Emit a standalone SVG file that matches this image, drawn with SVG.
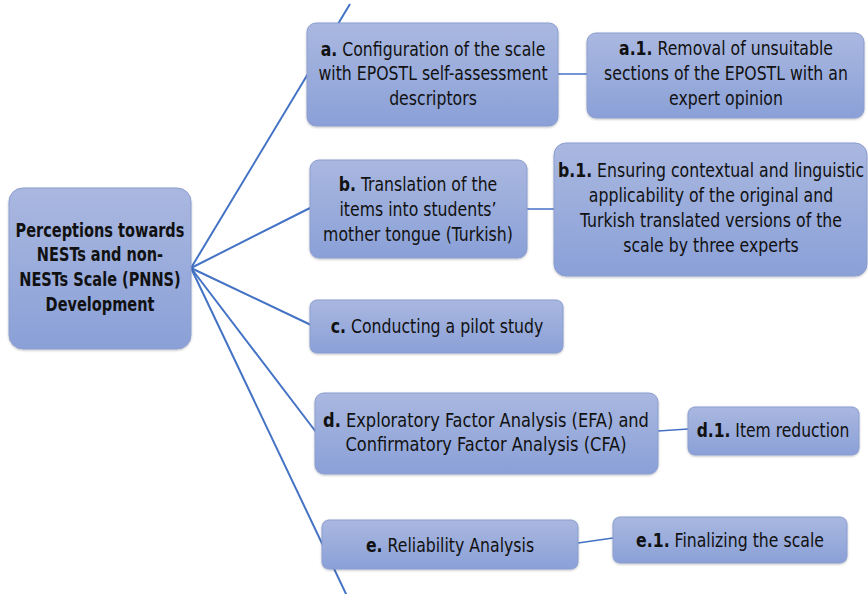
<svg xmlns="http://www.w3.org/2000/svg" width="868" height="594" viewBox="0 0 868 594">
<defs>
<linearGradient id="g" x1="0" y1="0" x2="0" y2="1">
<stop offset="0" stop-color="#aab8e0"/>
<stop offset="1" stop-color="#8aa0d7"/>
</linearGradient>
<filter id="sh" x="-10%" y="-10%" width="120%" height="130%">
<feDropShadow dx="0" dy="1" stdDeviation="1" flood-color="#000" flood-opacity="0.25"/>
</filter>
</defs>
<style>
.box{fill:url(#g);stroke:#8a9dd0;stroke-width:1;filter:url(#sh)}
text{font-family:"DejaVu Sans Condensed","Liberation Sans",sans-serif;font-size:19px;fill:#111;text-anchor:middle}
.b{font-weight:bold}
.root{font-weight:bold;font-size:19px}
.main{stroke:#4472c4;stroke-width:2;fill:none}
.sub{stroke:#4472c4;stroke-width:1.5;fill:none}
</style>
<rect width="868" height="594" fill="#fff"/>
<g id="connectors">
<line class="main" x1="191" y1="268" x2="350" y2="4"/>
<line class="main" x1="191" y1="268" x2="310" y2="208"/>
<line class="main" x1="191" y1="268" x2="311" y2="325"/>
<line class="main" x1="191" y1="268" x2="316" y2="432"/>
<line class="main" x1="191" y1="268" x2="347" y2="596"/>
<line class="sub" x1="558" y1="74" x2="587" y2="74"/>
<line class="sub" x1="527" y1="209" x2="554" y2="209"/>
<line class="sub" x1="658" y1="431" x2="688" y2="429"/>
<line class="sub" x1="578" y1="543" x2="613" y2="538"/>
</g>
<g id="root">
<rect class="box" x="9" y="188" width="182" height="161" rx="14"/>
<g transform="translate(100 0) scale(0.85 1)">
<text class="root" x="0" y="237">Perceptions towards</text>
<text class="root" x="0" y="261">NESTs and non-</text>
<text class="root" x="0" y="286">NESTs Scale (PNNS)</text>
<text class="root" x="0" y="311">Development</text>
</g>
</g>
<g id="node-a">
<rect class="box" x="307" y="23" width="251" height="103" rx="9"/>
<g transform="translate(433 0) scale(0.92 1)">
<text x="0" y="56"><tspan class="b">a.</tspan> Configuration of the scale</text>
<text x="0" y="80">with EPOSTL self-assessment</text>
<text x="0" y="105">descriptors</text>
</g>
</g>
<g id="node-a1">
<rect class="box" x="587" y="33" width="277" height="85" rx="9"/>
<g transform="translate(726 0) scale(0.92 1)">
<text x="0" y="55"><tspan class="b">a.1.</tspan> Removal of unsuitable</text>
<text x="0" y="80">sections of the EPOSTL with an</text>
<text x="0" y="105">expert opinion</text>
</g>
</g>
<g id="node-b">
<rect class="box" x="310" y="160" width="217" height="98" rx="9"/>
<g transform="translate(418 0) scale(0.92 1)">
<text x="0" y="191"><tspan class="b">b.</tspan> Translation of the</text>
<text x="0" y="216">items into students’</text>
<text x="0" y="241">mother tongue (Turkish)</text>
</g>
</g>
<g id="node-b1">
<rect class="box" x="554" y="143" width="313" height="133" rx="12"/>
<g transform="translate(711 0) scale(0.92 1)">
<text x="0" y="177"><tspan class="b">b.1.</tspan> Ensuring contextual and linguistic</text>
<text x="0" y="202">applicability of the original and</text>
<text x="0" y="227">Turkish translated versions of the</text>
<text x="0" y="252">scale by three experts</text>
</g>
</g>
<g id="node-c">
<rect class="box" x="310" y="300" width="253" height="53" rx="7"/>
<g transform="translate(437 0) scale(0.92 1)">
<text x="0" y="333"><tspan class="b">c.</tspan> Conducting a pilot study</text>
</g>
</g>
<g id="node-d">
<rect class="box" x="315" y="393" width="343" height="81" rx="9"/>
<g transform="translate(486 0) scale(0.95 1)">
<text x="0" y="427"><tspan class="b">d.</tspan> Exploratory Factor Analysis (EFA) and</text>
<text x="0" y="451">Confirmatory Factor Analysis (CFA)</text>
</g>
</g>
<g id="node-d1">
<rect class="box" x="688" y="407" width="171" height="48" rx="7"/>
<g transform="translate(773 0) scale(0.91 1)">
<text x="0" y="437"><tspan class="b">d.1.</tspan> Item reduction</text>
</g>
</g>
<g id="node-e">
<rect class="box" x="322" y="520" width="256" height="49" rx="7"/>
<g transform="translate(450 0) scale(0.92 1)">
<text x="0" y="552"><tspan class="b">e.</tspan> Reliability Analysis</text>
</g>
</g>
<g id="node-e1">
<rect class="box" x="613" y="517" width="234" height="46" rx="7"/>
<g transform="translate(730 0) scale(0.92 1)">
<text x="0" y="547"><tspan class="b">e.1.</tspan> Finalizing the scale</text>
</g>
</g>
</svg>
